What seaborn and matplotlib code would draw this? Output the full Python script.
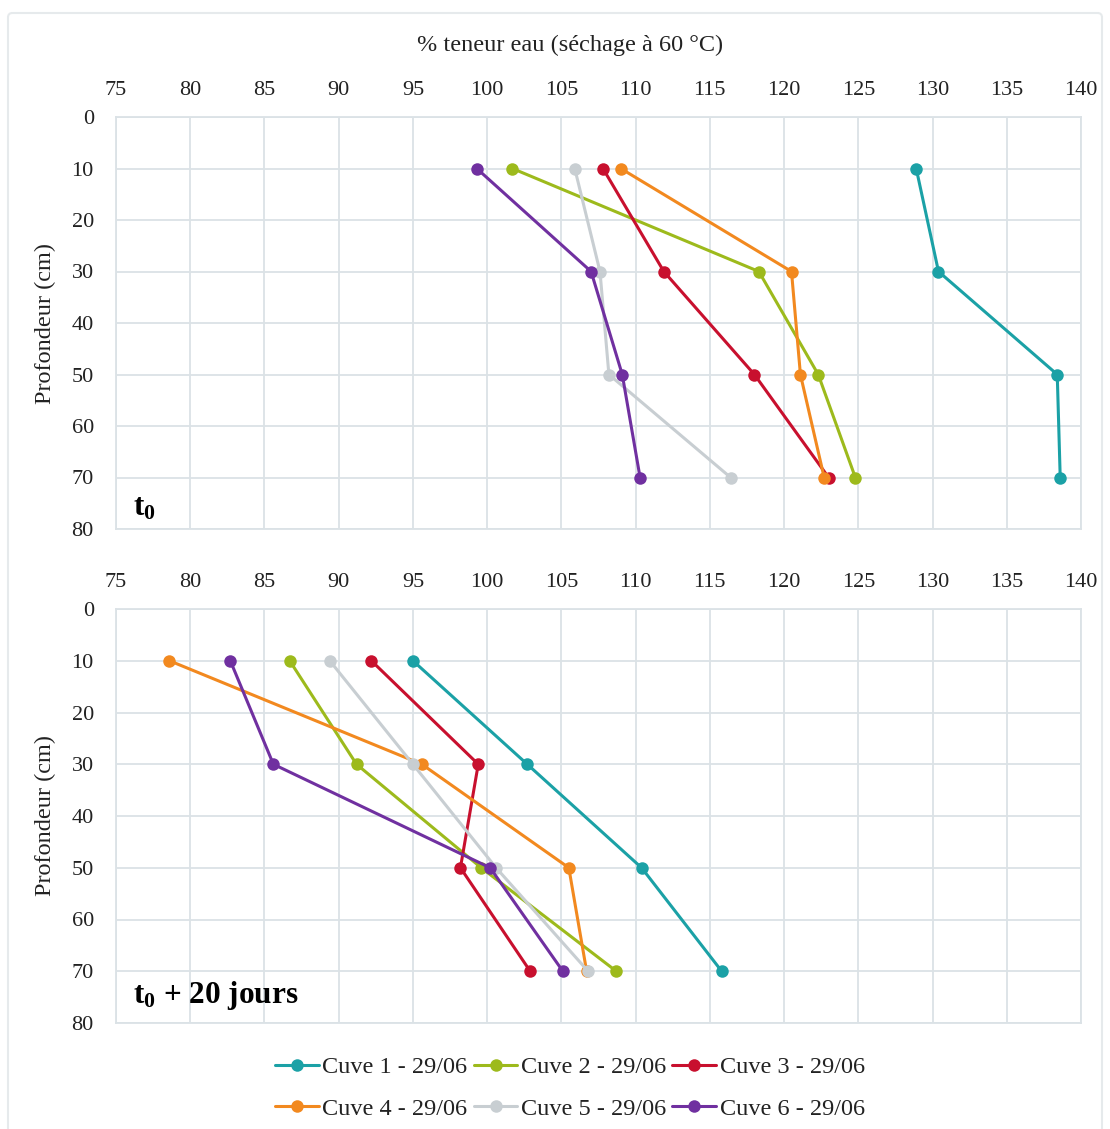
import matplotlib
matplotlib.use("Agg")
import matplotlib.pyplot as plt
import seaborn as sns
import pandas as pd
from matplotlib.patches import FancyBboxPatch

depths = [10, 30, 50, 70]
series_names = ["Cuve 1 - 29/06", "Cuve 2 - 29/06", "Cuve 3 - 29/06",
                "Cuve 4 - 29/06", "Cuve 5 - 29/06", "Cuve 6 - 29/06"]
colors = ["#1BA1A6", "#9DBA1C", "#C8102E", "#F2891F", "#C8CED2", "#7030A0"]

# t0
t0_cuve1 = [128.9, 130.4, 138.4, 138.6]
t0_cuve2 = [101.7, 118.3, 122.3, 124.8]
t0_cuve3 = [107.8, 111.9, 118.0, 123.0]
t0_cuve4 = [109.0, 120.5, 121.1, 122.7]
t0_cuve5 = [105.9, 107.6, 108.2, 116.4]
t0_cuve6 = [99.3, 107.0, 109.1, 110.3]

# t0 + 20 jours
t20_cuve1 = [95.0, 102.7, 110.4, 115.8]
t20_cuve2 = [86.7, 91.2, 99.6, 108.7]
t20_cuve3 = [92.2, 99.4, 98.2, 102.9]
t20_cuve4 = [78.6, 95.6, 105.5, 106.7]
t20_cuve5 = [89.4, 95.0, 100.6, 106.8]
t20_cuve6 = [82.7, 85.6, 100.2, 105.1]

x_ticks = list(range(75, 141, 5))
y_ticks = list(range(0, 81, 10))
title = "% teneur eau (séchage à 60 °C)"
ylabel = "Profondeur (cm)"
panel_labels = [r"$\mathbf{t_0}$", r"$\mathbf{t_0}$ + 20 jours"]


def make_df(vals):
    rows = []
    for name, v in zip(series_names, vals):
        for d, x in zip(depths, v):
            rows.append({"serie": name, "profondeur": d, "teneur": x})
    return pd.DataFrame(rows)


df_t0 = make_df([t0_cuve1, t0_cuve2, t0_cuve3, t0_cuve4, t0_cuve5, t0_cuve6])
df_t20 = make_df([t20_cuve1, t20_cuve2, t20_cuve3, t20_cuve4, t20_cuve5, t20_cuve6])

sns.set_theme(style="white")
plt.rcParams["font.family"] = ["Liberation Serif", "DejaVu Serif"]
plt.rcParams["mathtext.fontset"] = "custom"
plt.rcParams["mathtext.rm"] = "Liberation Serif"
plt.rcParams["mathtext.bf"] = "Liberation Serif:bold"
plt.rcParams["mathtext.it"] = "Liberation Serif:italic"

W, H = 1110, 1129
fig = plt.figure(figsize=(W / 100, H / 100), dpi=100)
fig.patch.set_facecolor("white")

# outer frame: left 8, top 13, right 1102, bottom just off the canvas
border = FancyBboxPatch((8 / W, -6 / H), (1102 - 8) / W, (1129 - 13 + 6) / H,
                        boxstyle="round,pad=0,rounding_size=0.004",
                        transform=fig.transFigure, facecolor="none",
                        edgecolor="#e6eaec", linewidth=1.5, zorder=-5)
fig.patches.append(border)

ax_left = 116 / W
ax_w = (1081 - 116) / W
ax1 = fig.add_axes([ax_left, 1 - 529 / H, ax_w, (529 - 117) / H])
ax2 = fig.add_axes([ax_left, 1 - 1023 / H, ax_w, (1023 - 609) / H])

palette = dict(zip(series_names, colors))
grid_color = "#dbe2e6"

for ax, df, lab, lab_y in [(ax1, df_t0, panel_labels[0], 508),
                           (ax2, df_t20, panel_labels[1], 996)]:
    sns.lineplot(data=df, x="teneur", y="profondeur", hue="serie",
                 palette=palette, orient="y", sort=False, estimator=None,
                 marker="o", markersize=9, markeredgewidth=0,
                 linewidth=2.2, ax=ax, legend=(ax is ax2))
    ax.set_xlim(75, 140)
    ax.set_ylim(80, 0)
    ax.set_xticks(x_ticks)
    ax.set_yticks(y_ticks)
    ax.xaxis.tick_top()
    ax.tick_params(axis="both", length=0, labelsize=16, colors="#222222")
    ax.tick_params(axis="x", pad=12)
    ax.tick_params(axis="y", pad=16)
    ax.grid(True, color=grid_color, linewidth=1.3)
    ax.set_axisbelow(True)
    for s in ax.spines.values():
        s.set_color(grid_color)
        s.set_linewidth(1.3)
    ax.set_xlabel("")
    ax.set_ylabel(ylabel, fontsize=17.5, color="#222222", labelpad=11)
    ax.text(133 / W, 1 - lab_y / H, lab, transform=fig.transFigure,
            fontsize=22.5, fontweight="bold", va="center", ha="left",
            color="black")

fig.text(570 / W, 1 - 45 / H, title, fontsize=17.5, ha="center",
         va="center", color="#222222")

handles, labels = ax2.get_legend_handles_labels()
ax2.get_legend().remove()
order = [0, 3, 1, 4, 2, 5]
fig.legend([handles[i] for i in order], [labels[i] for i in order],
           loc="center", bbox_to_anchor=(570 / W, 1 - 1088 / H),
           ncol=3, frameon=False, fontsize=17.5, handlelength=1.8,
           handletextpad=0.15, columnspacing=0.25, labelspacing=0.8,
           labelcolor="#222222")

fig.savefig("out.png", dpi=100, facecolor="white")
